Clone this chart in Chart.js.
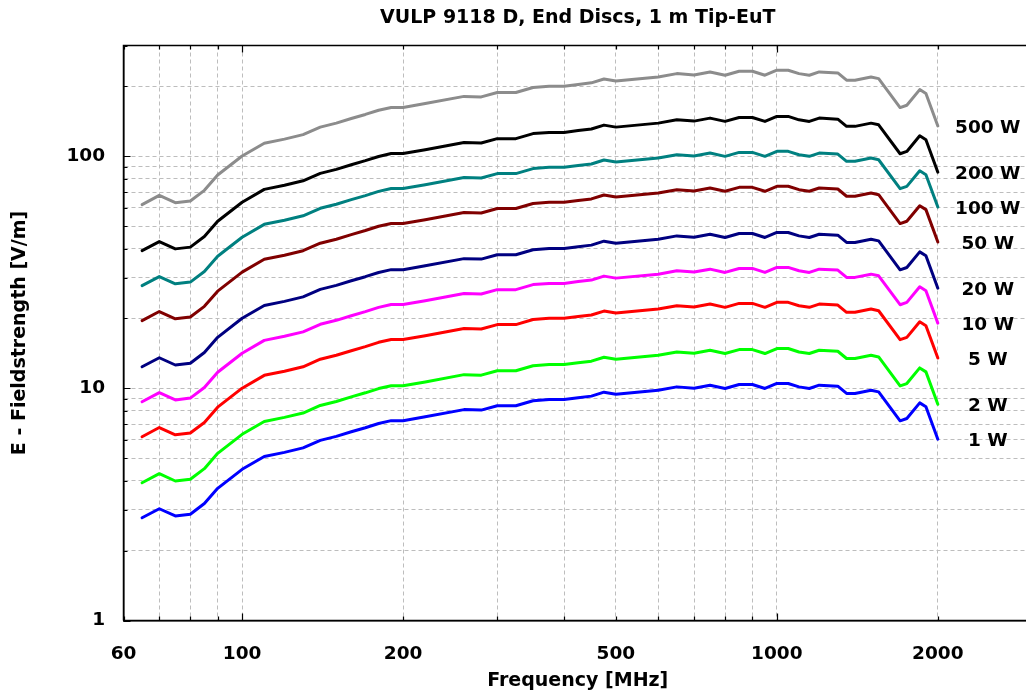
<!DOCTYPE html>
<html>
<head>
<meta charset="utf-8">
<script src="https://cdn.jsdelivr.net/npm/chart.js@4.4.1/dist/chart.umd.min.js"></script>
<style>
  html, body { margin: 0; padding: 0; background: #fff; overflow: hidden; }
  #wrap { width: 1026px; height: 695px; overflow: hidden; }
  canvas { display: block; }
</style>
</head>
<body>
<div id="wrap"><canvas id="c" width="1040" height="695"></canvas></div>
<script>
// ---------- data ----------
const FREQ_MHZ = [65,70,75,80,85,90,100,110,120,130,140,150,160,170,180,190,200,220,260,280,300,325,350,375,400,425,450,475,500,600,650,700,750,800,850,900,950,1000,1050,1100,1150,1200,1300,1350,1400,1500,1550,1700,1750,1850,1900,2000];

const E_1W = [2.77,3.03,2.82,2.87,3.19,3.71,4.48,5.09,5.30,5.54,5.97,6.21,6.50,6.77,7.06,7.26,7.26,7.54,8.10,8.06,8.42,8.42,8.85,8.96,8.96,9.12,9.26,9.63,9.44,9.82,10.15,10.02,10.32,9.99,10.39,10.39,9.99,10.50,10.50,10.15,9.99,10.32,10.22,9.51,9.51,9.82,9.66,7.25,7.42,8.66,8.33,6.04];
const E_2W = [3.92,4.29,3.99,4.06,4.51,5.25,6.34,7.20,7.50,7.83,8.44,8.78,9.19,9.57,9.98,10.27,10.27,10.66,11.46,11.40,11.91,11.91,12.52,12.67,12.67,12.90,13.10,13.62,13.35,13.89,14.35,14.17,14.59,14.13,14.69,14.69,14.13,14.85,14.85,14.35,14.13,14.59,14.45,13.45,13.45,13.89,13.66,10.25,10.49,12.25,11.78,8.54];
const E_5W = [6.19,6.78,6.31,6.42,7.13,8.30,10.02,11.38,11.85,12.39,13.35,13.89,14.53,15.14,15.79,16.23,16.23,16.86,18.11,18.02,18.83,18.83,19.79,20.04,20.04,20.39,20.71,21.53,21.11,21.96,22.70,22.41,23.08,22.34,23.23,23.23,22.34,23.48,23.48,22.70,22.34,23.08,22.85,21.27,21.27,21.96,21.60,16.21,16.59,19.36,18.63,13.51];
const E_10W = [8.76,9.58,8.92,9.08,10.09,11.73,14.17,16.10,16.76,17.52,18.88,19.64,20.55,21.41,22.33,22.96,22.96,23.84,25.61,25.49,26.63,26.63,27.99,28.33,28.33,28.84,29.28,30.45,29.85,31.05,32.10,31.69,32.63,31.59,32.86,32.86,31.59,33.20,33.20,32.10,31.59,32.63,32.32,30.07,30.07,31.05,30.55,22.93,23.46,27.39,26.34,19.10];
const E_20W = [12.39,13.55,12.61,12.83,14.27,16.59,20.04,22.76,23.70,24.78,26.70,27.77,29.07,30.28,31.57,32.47,32.47,33.72,36.22,36.05,37.66,37.66,39.58,40.07,40.07,40.79,41.41,43.07,42.22,43.92,45.39,44.81,46.15,44.68,46.47,46.47,44.68,46.96,46.96,45.39,44.68,46.15,45.70,42.53,42.53,43.92,43.20,32.42,33.18,38.73,37.25,27.01];
const E_50W = [19.59,21.43,19.94,20.29,22.56,26.23,31.68,35.99,37.48,39.17,42.21,43.91,45.96,47.87,49.92,51.34,51.34,53.32,57.28,56.99,59.54,59.54,62.58,63.36,63.36,64.49,65.48,68.09,66.75,69.44,71.77,70.85,72.97,70.64,73.47,73.47,70.64,74.25,74.25,71.77,70.64,72.97,72.27,67.25,67.25,69.44,68.31,51.27,52.47,61.24,58.90,42.71];
const E_100W = [27.7,30.3,28.2,28.7,31.9,37.1,44.8,50.9,53.0,55.4,59.7,62.1,65.0,67.7,70.6,72.6,72.6,75.4,81.0,80.6,84.2,84.2,88.5,89.6,89.6,91.2,92.6,96.3,94.4,98.2,101.5,100.2,103.2,99.9,103.9,103.9,99.9,105.0,105.0,101.5,99.9,103.2,102.2,95.1,95.1,98.2,96.6,72.5,74.2,86.6,83.3,60.4];
const E_200W = [39.2,42.9,39.9,40.6,45.1,52.5,63.4,72.0,75.0,78.4,84.4,87.8,91.9,95.7,99.8,102.7,102.7,106.6,114.6,114.0,119.1,119.1,125.2,126.7,126.7,129.0,131.0,136.2,133.5,138.9,143.5,141.7,146.0,141.3,146.9,146.9,141.3,148.5,148.5,143.5,141.3,146.0,144.5,134.5,134.5,138.9,136.6,102.5,104.9,122.5,117.8,85.4];
const E_500W = [61.9,67.8,63.1,64.2,71.3,83.0,100.2,113.8,118.5,123.9,133.5,138.9,145.4,151.4,157.9,162.3,162.3,168.6,181.1,180.2,188.3,188.3,197.9,200.4,200.4,203.9,207.1,215.3,211.1,219.6,227.0,224.1,230.8,223.4,232.3,232.3,223.4,234.8,234.8,227.0,223.4,230.8,228.5,212.7,212.7,219.6,216.0,162.1,165.9,193.7,186.3,135.1];

const SERIES_LABELS = ['500 W','200 W','100 W','50 W','20 W','10 W','5 W','2 W','1 W'];
const SERIES_VALUES = [E_500W, E_200W, E_100W, E_50W, E_20W, E_10W, E_5W, E_2W, E_1W];

const X_GRID = [60,70,80,90,100,200,300,400,500,600,700,800,900,1000,2000];
const X_TICK_LABELS = [60,100,200,500,1000,2000];
const Y_GRID = [1,2,3,4,5,6,7,8,9,10,20,30,40,50,60,70,80,90,100,200,300];
const Y_TICK_LABELS = [1,10,100];

const TITLE = 'VULP 9118 D, End Discs, 1 m Tip-EuT';
const X_TITLE = 'Frequency [MHz]';
const Y_TITLE = 'E - Fieldstrength [V/m]';

// ---------- styles ----------
const COLORS = ['#8c8c8c','#000000','#008080','#800000','#000080','#ff00ff','#ff0000','#00ff00','#0000ff'];
const FONT = '"DejaVu Sans", sans-serif';
const LABEL_FREQ = 2480;

const datasets = SERIES_VALUES.map((vals, i) => ({
  label: SERIES_LABELS[i],
  data: FREQ_MHZ.map((f, k) => ({x: f, y: vals[k]})),
  borderColor: COLORS[i],
  backgroundColor: COLORS[i],
  borderWidth: 3,
  pointRadius: 0,
  fill: false,
  tension: 0,
  borderJoinStyle: 'round',
  borderCapStyle: 'round'
}));

const isDecade = v => Math.abs(Math.log10(v) - Math.round(Math.log10(v))) < 1e-9;

const framePlugin = {
  id: 'frame',
  afterDraw(chart) {
    const {ctx, chartArea: a, scales: {x, y}} = chart;
    ctx.save();
    ctx.strokeStyle = '#000';
    ctx.lineWidth = 1.5;
    ctx.beginPath();
    ctx.moveTo(a.left, a.bottom); ctx.lineTo(a.left, a.top); ctx.lineTo(a.right, a.top);
    ctx.moveTo(a.left, a.bottom); ctx.lineTo(a.right, a.bottom);
    ctx.stroke();
    ctx.lineWidth = 1.2;
    ctx.beginPath();
    for (const v of X_GRID) {
      const px = Math.round(x.getPixelForValue(v)) + 0.5;
      const len = isDecade(v) ? 7 : 4;
      ctx.moveTo(px, a.bottom); ctx.lineTo(px, a.bottom - len);
      ctx.moveTo(px, a.top); ctx.lineTo(px, a.top + len);
    }
    for (const v of Y_GRID) {
      const py = Math.round(y.getPixelForValue(v)) + 0.5;
      const len = isDecade(v) ? 7 : 4;
      ctx.moveTo(a.left, py); ctx.lineTo(a.left + len, py);
    }
    ctx.stroke();
    ctx.restore();
  }
};

const labelPlugin = {
  id: 'endLabels',
  afterDatasetsDraw(chart) {
    const {ctx, scales: {x, y}} = chart;
    ctx.save();
    ctx.font = 'bold 18.5px ' + FONT;
    ctx.fillStyle = '#000';
    ctx.textAlign = 'center';
    ctx.textBaseline = 'middle';
    chart.data.datasets.forEach(ds => {
      const last = ds.data[ds.data.length - 1];
      ctx.fillText(ds.label, x.getPixelForValue(LABEL_FREQ), y.getPixelForValue(last.y) + 2);
    });
    ctx.restore();
  }
};

new Chart(document.getElementById('c'), {
  type: 'line',
  data: { datasets },
  plugins: [framePlugin, labelPlugin],
  options: {
    responsive: false,
    animation: false,
    devicePixelRatio: 1,
    layout: { padding: { left: 0, right: 8, top: 0, bottom: 0 } },
    plugins: {
      legend: { display: false },
      tooltip: { enabled: false },
      title: {
        display: true,
        text: TITLE,
        fullSize: false,
        color: '#000',
        font: { family: FONT, size: 19, weight: 'bold' },
        padding: { top: 7.1, bottom: 15.6 }
      }
    },
    scales: {
      x: {
        type: 'logarithmic',
        min: 60, max: 3000,
        afterBuildTicks: s => { s.ticks = X_GRID.map(v => ({value: v})); },
        afterFit: s => { s.height = 74.5; },
        ticks: {
          autoSkip: false, maxRotation: 0, minRotation: 0,
          color: '#000',
          padding: 23,
          font: { family: FONT, size: 18.5, weight: 'bold' },
          callback: v => X_TICK_LABELS.includes(v) ? String(v) : ''
        },
        grid: { color: '#bdbdbd', lineWidth: 1, drawTicks: false },
        border: { display: true, color: '#000', width: 1.5, dash: [4, 3] },
        title: {
          display: true, text: X_TITLE, color: '#000',
          font: { family: FONT, size: 19, weight: 'bold' },
          padding: { top: 0, bottom: 3 }
        }
      },
      y: {
        type: 'logarithmic',
        min: 1, max: 300,
        afterBuildTicks: s => { s.ticks = Y_GRID.map(v => ({value: v})); },
        afterFit: s => { s.width = 123.5; },
        ticks: {
          autoSkip: false,
          color: '#000',
          padding: 18.5,
          font: { family: FONT, size: 18.5, weight: 'bold' },
          callback: v => Y_TICK_LABELS.includes(v) ? String(v) : ''
        },
        grid: { color: '#bdbdbd', lineWidth: 1, drawTicks: false },
        border: { display: true, color: '#000', width: 1.5, dash: [4, 3] },
        title: {
          display: true, text: Y_TITLE, color: '#000',
          font: { family: FONT, size: 19, weight: 'bold' },
          padding: { top: 8.6, bottom: 0 }
        }
      }
    }
  }
});
</script>
</body>
</html>
